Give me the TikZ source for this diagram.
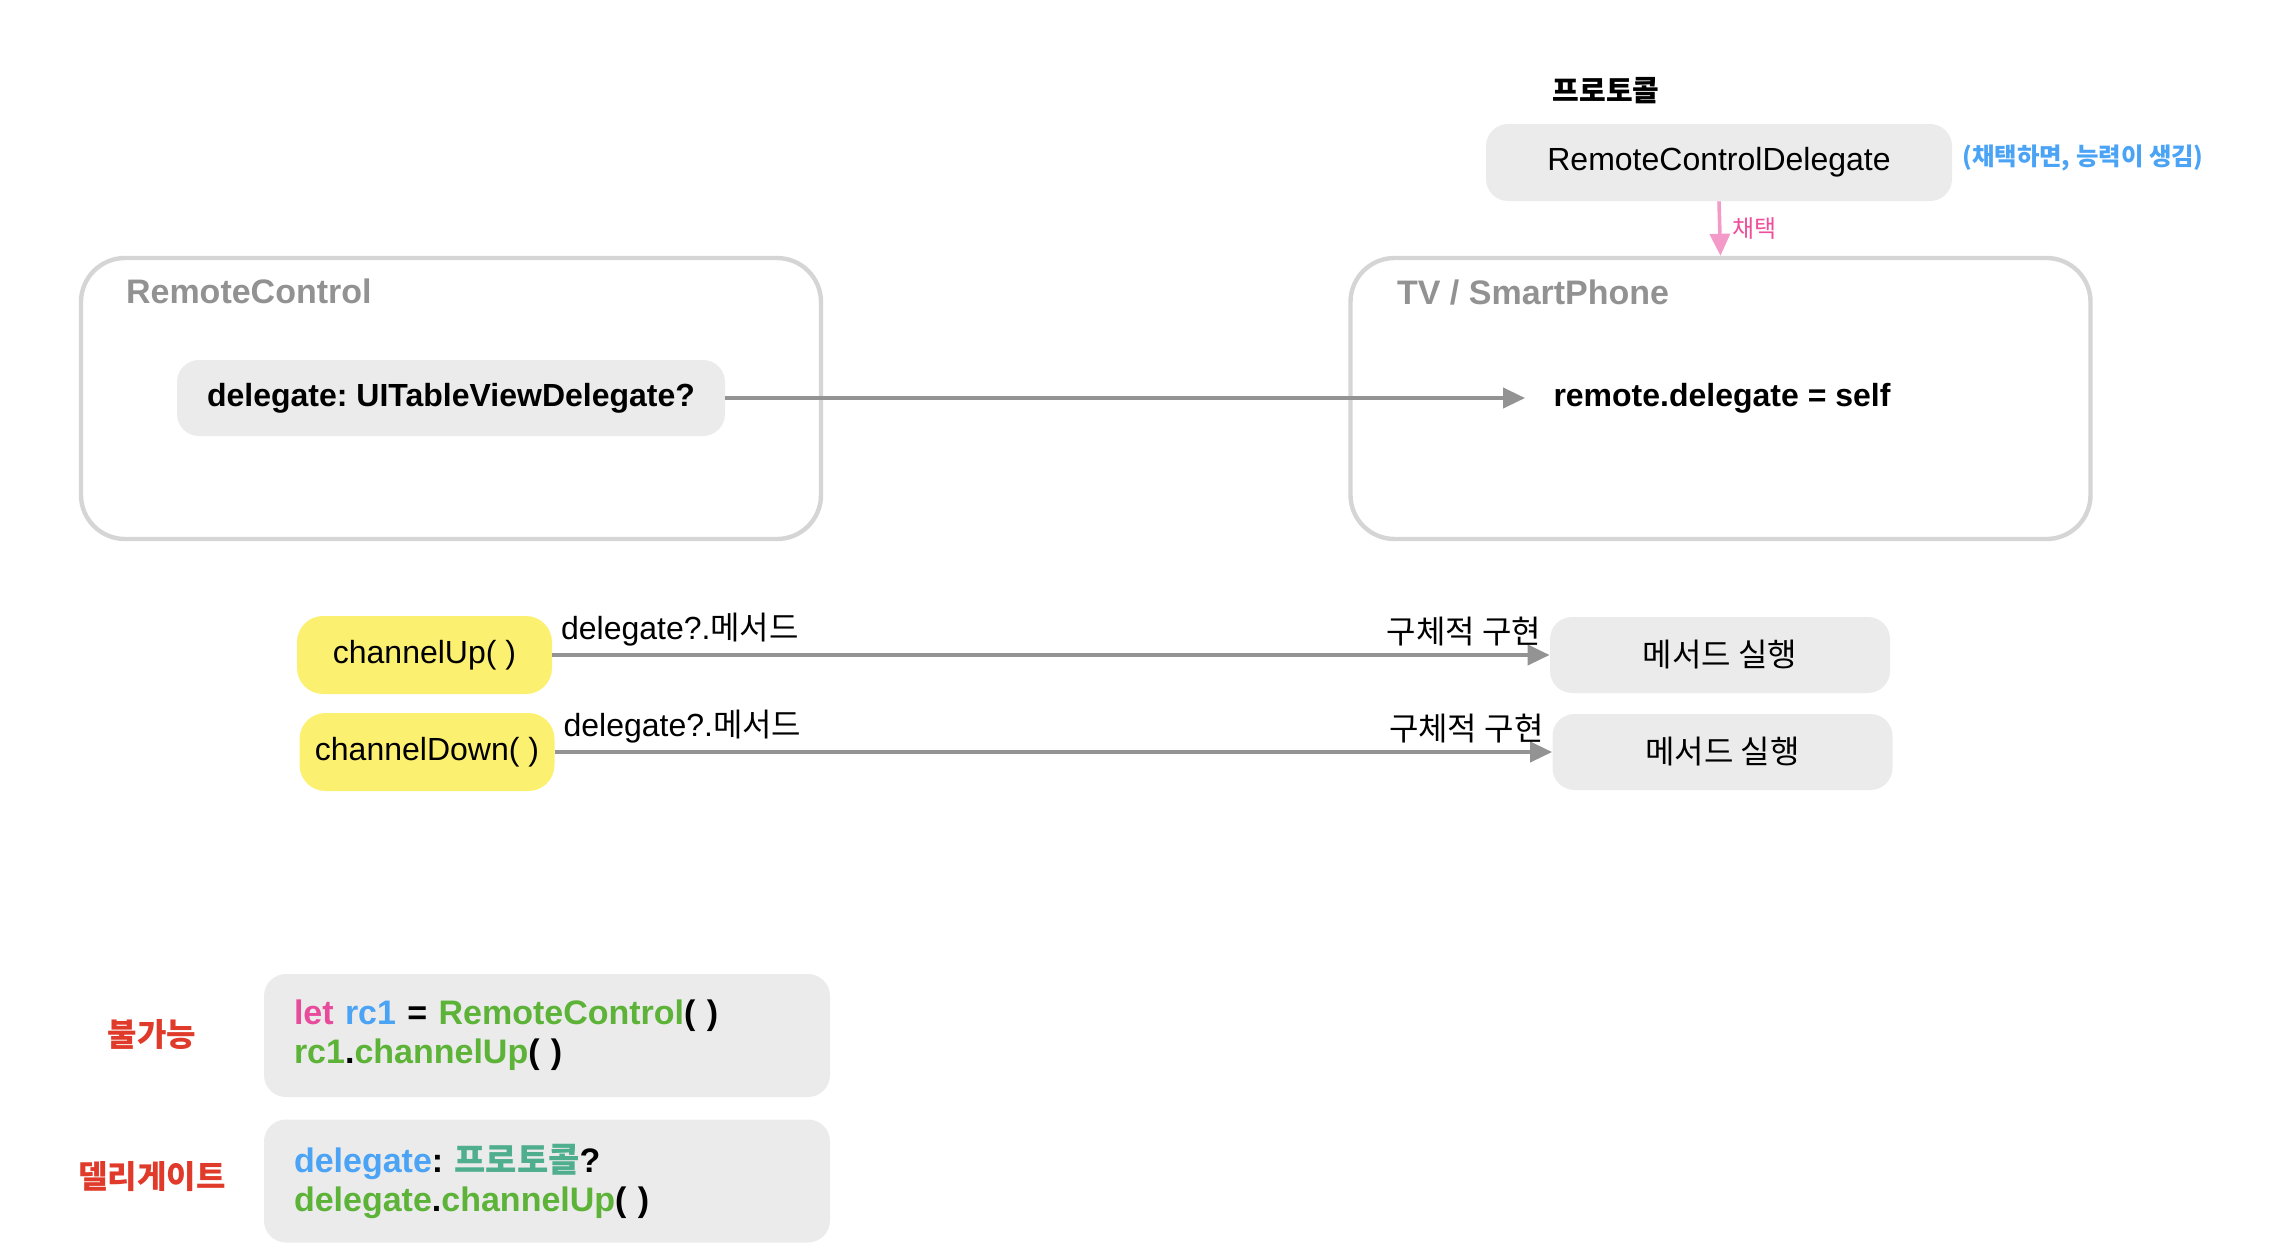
\documentclass[tikz,border=0pt]{standalone}
\usepackage{fontspec}
\setmainfont{Liberation Sans}
\newfontfamily\hangul{Noto Sans CJK KR}
\usetikzlibrary{arrows.meta}
\definecolor{boxgray}{HTML}{EBEBEB}
\definecolor{framegray}{HTML}{D5D5D5}
\definecolor{titlegray}{HTML}{929292}
\definecolor{linkgray}{HTML}{939393}
\definecolor{pillyellow}{HTML}{FCF071}
\definecolor{adoptpink}{HTML}{F39AC9}
\definecolor{adopttext}{HTML}{EE4E9B}
\definecolor{letpink}{HTML}{E94B9C}
\definecolor{varblue}{HTML}{4AA3F5}
\definecolor{codegreen}{HTML}{5CB338}
\definecolor{prototeal}{HTML}{4FAE8E}
\definecolor{warnred}{HTML}{E03A2B}
\frenchspacing

\begin{document}
\begin{tikzpicture}[x=0.5pt,y=-0.5pt,
	txt/.style={font=\fontsize{16}{19}\selectfont},
	card/.style={fill=boxgray,rounded corners=11pt,inner sep=0pt,txt},
	framebox/.style={draw=framegray,line width=2.2pt,rounded corners=22pt,inner sep=0pt,minimum width=370pt,minimum height=140.5pt},
	pill/.style={fill=pillyellow,rounded corners=13pt,inner sep=0pt,minimum width=127.5pt,minimum height=39pt,txt},
	heading/.style={anchor=west,text=titlegray,font=\fontsize{17}{20}\selectfont\bfseries},
	link/.style={draw=linkgray,line width=2pt,-{Triangle[length=11pt,width=10pt]}},
	codebox/.style={fill=boxgray,rounded corners=11pt,inner xsep=15pt,inner ysep=0pt,text width=253pt,align=left,minimum height=61.5pt,font=\fontsize{17}{19.5}\selectfont\bfseries}]
		\useasboundingbox (0,0) rectangle (2284,1258);
		% protocol on top
		\node[font=\fontsize{14.5}{17}\hangul\bfseries] (proto) at (1606,91) {프로토콜};
		\node[card,minimum width=233pt,minimum height=38.5pt] (rcd) at (1719,162.5) {RemoteControlDelegate};
		\node[anchor=west,inner sep=0pt,text=varblue,font=\fontsize{12.2}{14}\hangul\bfseries] (note) at (1962,158) {(채택하면, 능력이 생김)};
		% the two classes
		\node[framebox] (rc) at (451,398.5) {};
		\node[heading] (rctitle) at (119,291) {RemoteControl};
		\node[framebox] (tv) at (1720.5,398.5) {};
		\node[heading] (tvtitle) at (1390,293) {TV / SmartPhone};
		\node[card,minimum width=274pt,minimum height=38pt,font=\fontsize{16}{19}\selectfont\bfseries] (del) at (451,398) {delegate: UITableViewDelegate?};
		\node[inner xsep=14pt,font=\fontsize{16}{19}\selectfont\bfseries] (remote) at (1722,398) {remote.delegate = self};
		\draw[link] (del.east) -- (remote.west);
		\draw[draw=adoptpink,line width=1.8pt,-{Triangle[length=11pt,width=10pt]}] (rcd.south) -- (tv.north)
			node[midway,right,xshift=2pt,text=adopttext,font=\fontsize{12}{14}\hangul] {채택};
		% methods
		\node[pill] (up) at (424.5,655) {channelUp( )};
		\node[pill] (down) at (427,752) {channelDown( )};
		\node[card,minimum width=170pt,minimum height=38pt] (runup) at (1720,655) {{\hangul 메서드 실행}};
		\node[card,minimum width=170pt,minimum height=38pt] (rundown) at (1722.5,752) {{\hangul 메서드 실행}};
		\draw[link] (up.east) -- (runup.west)
			node[pos=0,anchor=south west,txt] {delegate?.{\hangul 메서드}}
			node[pos=1,anchor=south east,txt] {{\hangul 구체적 구현}};
		\draw[link] (down.east) -- (rundown.west)
			node[pos=0,anchor=south west,txt] {delegate?.{\hangul 메서드}}
			node[pos=1,anchor=south east,txt] {{\hangul 구체적 구현}};
		% code
		\node[text=warnred,font=\fontsize{16}{19}\hangul\bfseries] (nogo) at (152,1034) {불가능};
		\node[text=warnred,font=\fontsize{16}{19}\hangul\bfseries] (deleg) at (152,1177) {델리게이트};
		\node[codebox] (code1) at (547,1035.5) {\textcolor{letpink}{let} \textcolor{varblue}{rc1} = \textcolor{codegreen}{RemoteControl}( )\\
			\textcolor{codegreen}{rc1}.\textcolor{codegreen}{channelUp}( )};
		\node[codebox] (code2) at (547,1181) {\textcolor{varblue}{delegate}: {\hangul\textcolor{prototeal}{프로토콜}}?\\
			\textcolor{codegreen}{delegate}.\textcolor{codegreen}{channelUp}( )};
	\end{tikzpicture}
\end{document}
